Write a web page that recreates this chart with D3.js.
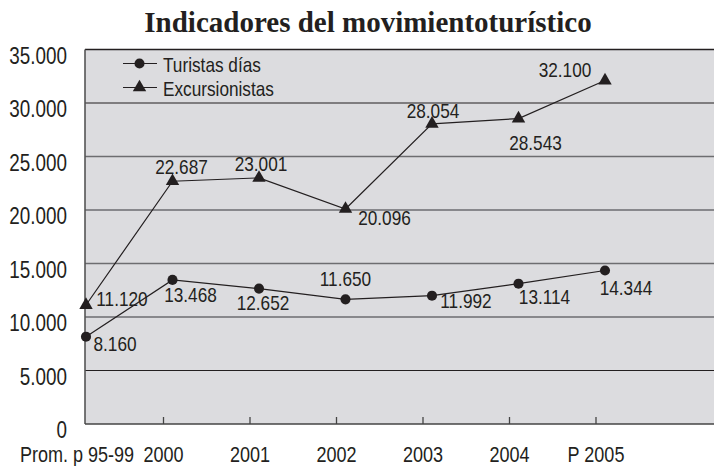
<!DOCTYPE html>
<html>
<head>
<meta charset="utf-8">
<script src="https://cdn.jsdelivr.net/npm/d3@7"></script>
<style>
  body { margin: 0; background: #fff; }
  svg { display: block; }
  text { font-family: "Liberation Sans", Arial, sans-serif; fill: #231f20; }
</style>
</head>
<body>
<div id="chart"></div>
<script>
// data
const categories = ['Prom. p 95-99', '2000', '2001', '2002', '2003', '2004', 'P 2005'];
const turistas = [8160, 13468, 12652, 11650, 11992, 13114, 14344];
const excursionistas = [11120, 22687, 23001, 20096, 28054, 28543, 32100];
const yTicks = [0, 5000, 10000, 15000, 20000, 25000, 30000, 35000];
const seriesNames = ['Turistas días', 'Excursionistas'];

// label placement (offset from the point, px)
const turLabelOff = [[29, 7], [18, 15], [4, 14], [0, -20], [34, 5], [26, 13], [21, 17]];
const excLabelOff = [[36, -6], [9, -14], [2, -14], [39, 9], [1, -13], [17, 24], [-40, -11]];

const W = 714, H = 466;
const plot = { left: 85, top: 49.5, bottom: 424, right: 720 };
const narrow = 0.82; // squeeze Liberation Sans to look like a narrow face

const fmt = v => d3.format(',')(v).replace(/,/g, '.');

const svg = d3.select('#chart').append('svg')
  .attr('width', W)
  .attr('height', H);

// text helper: position via transform so it can be condensed
function ntext(sel, px, py) {
  return sel.attr('x', 0).attr('y', 0)
    .attr('transform', (d, i) => `translate(${px(d, i)},${py(d, i)}) scale(${narrow},1)`);
}

const x = d3.scalePoint()
  .domain(categories)
  .range([86, 605]);

const y = d3.scaleLinear()
  .domain([0, 35000])
  .range([plot.bottom, plot.top]);

// title
svg.append('text')
  .attr('x', 368)
  .attr('y', 32)
  .attr('text-anchor', 'middle')
  .style('font-family', '"Liberation Serif", "DejaVu Serif", serif')
  .style('font-weight', 'bold')
  .style('font-size', '29px')
  .text('Indicadores del movimientoturístico');

// plot background
svg.append('rect')
  .attr('x', plot.left)
  .attr('y', plot.top)
  .attr('width', plot.right - plot.left)
  .attr('height', plot.bottom - plot.top)
  .attr('fill', '#dcdcdf');

// gridlines
svg.append('g')
  .selectAll('line')
  .data(yTicks.filter(d => d > 0 && d < 35000))
  .enter().append('line')
  .attr('x1', plot.left)
  .attr('x2', plot.right)
  .attr('y1', d => y(d))
  .attr('y2', d => y(d))
  .attr('stroke', d => (d === 5000 || d === 30000) ? '#231f20' : '#6d6d70')
  .attr('stroke-width', d => (d === 5000 || d === 30000) ? 1.2 : 1.6);

// frame
svg.append('line')
  .attr('x1', plot.left).attr('x2', plot.right)
  .attr('y1', plot.top).attr('y2', plot.top)
  .attr('stroke', '#231f20').attr('stroke-width', 1.6);
svg.append('line')
  .attr('x1', plot.left).attr('x2', plot.left)
  .attr('y1', plot.top).attr('y2', plot.bottom)
  .attr('stroke', '#555').attr('stroke-width', 1.6);
svg.append('line')
  .attr('x1', plot.left).attr('x2', plot.right)
  .attr('y1', plot.bottom).attr('y2', plot.bottom)
  .attr('stroke', '#444').attr('stroke-width', 1.6);

// y tick labels
ntext(svg.append('g')
  .selectAll('text')
  .data(yTicks)
  .enter().append('text'), () => 67, d => y(d) + 14)
  .attr('text-anchor', 'end')
  .style('font-size', '23px')
  .text(d => fmt(d));

// x ticks and labels (sit a bit left of the points)
const xt = svg.append('g');
xt.selectAll('line')
  .data(categories.slice(1))
  .enter().append('line')
  .attr('x1', d => x(d) - 9)
  .attr('x2', d => x(d) - 9)
  .attr('y1', plot.bottom)
  .attr('y2', plot.bottom - 7)
  .attr('stroke', '#444')
  .attr('stroke-width', 1.3);
ntext(xt.selectAll('text')
  .data(categories)
  .enter().append('text'), d => x(d) - 9, () => 462)
  .attr('text-anchor', 'middle')
  .style('font-size', '22px')
  .text(d => d);

const line = d3.line()
  .x((d, i) => x(categories[i]))
  .y(d => y(d));

const circleSym = d3.symbol().type(d3.symbolCircle).size(80);
const triSym = d3.symbol().type(d3.symbolTriangle).size(78);

function drawSeries(values, sym, offsets) {
  const g = svg.append('g');
  g.append('path')
    .datum(values)
    .attr('d', line)
    .attr('fill', 'none')
    .attr('stroke', '#231f20')
    .attr('stroke-width', 1.2);
  g.selectAll('path.m')
    .data(values)
    .enter().append('path')
    .attr('class', 'm')
    .attr('d', sym)
    .attr('transform', (d, i) => `translate(${x(categories[i])},${y(d)})`)
    .attr('fill', '#231f20');
  ntext(g.selectAll('text')
    .data(values)
    .enter().append('text'),
    (d, i) => x(categories[i]) + offsets[i][0],
    (d, i) => y(d) + offsets[i][1])
    .attr('text-anchor', 'middle')
    .attr('dominant-baseline', 'central')
    .style('font-size', '21px')
    .text(d => fmt(d));
}

drawSeries(turistas, circleSym, turLabelOff);
drawSeries(excursionistas, triSym, excLabelOff);

// legend
const legend = svg.append('g');
const legendSyms = [circleSym, triSym];
seriesNames.forEach((name, i) => {
  const ly = 63.5 + i * 24;
  legend.append('line')
    .attr('x1', 123).attr('x2', 157)
    .attr('y1', ly).attr('y2', ly)
    .attr('stroke', '#231f20').attr('stroke-width', 1.2);
  legend.append('path')
    .attr('d', legendSyms[i]())
    .attr('transform', `translate(139.5,${ly})`)
    .attr('fill', '#231f20');
  legend.append('text')
    .attr('x', 0)
    .attr('y', 0)
    .attr('transform', `translate(163,${ly + 1.5}) scale(${narrow},1)`)
    .attr('dominant-baseline', 'central')
    .style('font-size', '21px')
    .text(name);
});
</script>
</body>
</html>
